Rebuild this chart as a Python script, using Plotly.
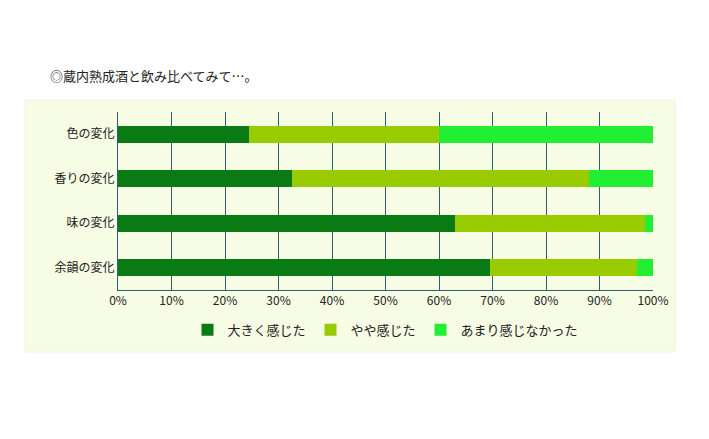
import plotly.graph_objects as go

categories = ["色の変化", "香りの変化", "味の変化", "余韻の変化"]
big = [24.5, 32.5, 63.0, 69.5]
some = [35.5, 55.5, 35.5, 27.5]
none = [40.0, 12.0, 1.5, 3.0]
series_names = ["大きく感じた", "やや感じた", "あまり感じなかった"]
colors = ["#0A7A14", "#99CC00", "#22EE33"]
ticks = [0, 10, 20, 30, 40, 50, 60, 70, 80, 90, 100]

W, H = 709, 439
L, R, T, B = 110, 64, 104, 157
off = 8  # page offset seen in render

fig = go.Figure()
for name, vals, c in zip(series_names, [big, some, none], colors):
    fig.add_trace(go.Bar(y=categories, x=vals, name=name, orientation="h",
                         marker=dict(color=c, line=dict(width=0)), width=0.38))

font = "Noto Sans CJK JP"
pw, ph = W - L - R, H - T - B
fig.update_layout(
    width=W, height=H, barmode="stack",
    margin=dict(l=L, r=R, t=T, b=B),
    paper_bgcolor="white", plot_bgcolor="#F7FCE4",
    font=dict(family=font, size=12, color="#222"),
    showlegend=True,
    legend=dict(orientation="h", x=0.5, xanchor="center", y=-0.14, yanchor="top",
                bgcolor="rgba(0,0,0,0)", font=dict(size=13), traceorder="normal"),
    xaxis=dict(range=[0, 100], tickvals=ticks, ticktext=[f"{t}%" for t in ticks],
               showgrid=True, gridcolor="#2F5F6F", gridwidth=1, zeroline=False,
               showline=True, linecolor="#2F5F6F", ticks="", fixedrange=True),
    yaxis=dict(autorange="reversed", showline=True, linecolor="#2F5F6F",
               ticks="", ticklen=0, showgrid=False),
    shapes=[dict(type="rect", xref="paper", yref="paper", layer="below",
                 x0=(25 - off - L) / pw, x1=(675 - off - L) / pw,
                 y0=(H - B - (352 - off)) / ph, y1=(H - B - (100 - off)) / ph,
                 fillcolor="#F7FCE4", line=dict(color="#EEF5D8", width=1))],
    annotations=[dict(text="◎蔵内熟成酒と飲み比べてみて…。", xref="paper", yref="paper",
                      x=(48 - off - L) / pw, y=(H - B - (75 - off)) / ph,
                      xanchor="left", yanchor="middle", showarrow=False,
                      font=dict(size=13, color="#222"))],
)

fig.write_html("out.html")
